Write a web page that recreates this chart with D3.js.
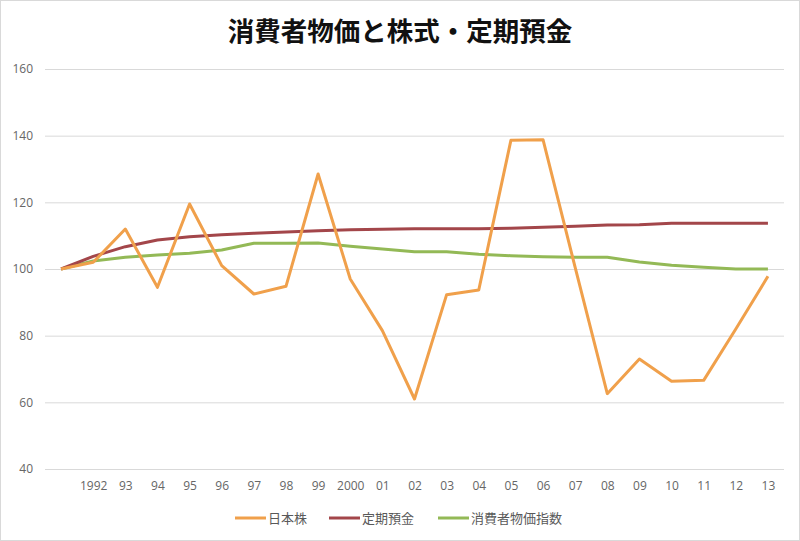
<!DOCTYPE html>
<html>
<head>
<meta charset="utf-8">
<script src="https://cdn.jsdelivr.net/npm/d3@7"></script>
<style>
  body { margin: 0; background: #fff; }
  svg { display: block; font-family: "Noto Sans CJK JP", "Noto Sans", sans-serif; }
</style>
</head>
<body>
<div id="chart"></div>
<script>
// categories (first point is the 1991 base year, left unlabeled)
var years = ["", "1992", "93", "94", "95", "96", "97", "98", "99", "2000", "01", "02",
	"03", "04", "05", "06", "07", "08", "09", "10", "11", "12", "13"];

var stocks = [100, 102, 112, 94.5, 119.5, 101, 92.5, 94.8, 128.5, 97, 81.5, 61,
	92.3, 93.7, 138.6, 138.8, 100.5, 62.6, 73, 66.3, 66.6, 82, 97.8];

var deposits = [100, 103.8, 106.7, 108.7, 109.7, 110.3, 110.7, 111.1, 111.5, 111.8, 111.9, 112.1,
	112.1, 112.1, 112.2, 112.5, 112.8, 113.2, 113.3, 113.7, 113.7, 113.7, 113.7];

var cpi = [100, 102.4, 103.5, 104.2, 104.7, 105.7, 107.7, 107.7, 107.8, 106.8, 106, 105.2,
	105.2, 104.4, 104, 103.7, 103.5, 103.5, 102.1, 101.1, 100.5, 100, 100];

var yTicks = [40, 60, 80, 100, 120, 140, 160];

var seriesNames = ["日本株", "定期預金", "消費者物価指数"];
var seriesColors = ["#F0A04B", "#A3464A", "#93B956"];
var seriesValues = [stocks, deposits, cpi];

function drawChart() {
	var W = 800, H = 541;
	var plotLeft = 45, plotRight = 784, plotTop = 69, plotBottom = 469;

	var svg = d3.select('#chart').append('svg')
		.attr('width', W).attr('height', H);

	// outer frame
	svg.append('rect')
		.attr('x', 0.5).attr('y', 0.5)
		.attr('width', W - 1).attr('height', H - 1)
		.attr('fill', '#fff').attr('stroke', '#d9d9d9');

	svg.append('text')
		.attr('x', 400).attr('y', 41)
		.attr('text-anchor', 'middle')
		.attr('font-size', 26.5).attr('font-weight', 'bold')
		.attr('fill', '#111')
		.text('消費者物価と株式・定期預金');

	var x = d3.scalePoint().domain(d3.range(years.length)).range([plotLeft, plotRight]).padding(0.5);
	var y = d3.scaleLinear().domain([40, 160]).range([plotBottom, plotTop]);

	// gridlines + y labels
	var yAxis = d3.axisLeft(y).tickValues(yTicks).tickSize(-(plotRight - plotLeft)).tickPadding(12);
	var gy = svg.append('g').attr('transform', 'translate(' + plotLeft + ',0)').call(yAxis);
	gy.select('.domain').remove();
	gy.selectAll('line').attr('stroke', '#d9d9d9');
	gy.selectAll('text')
		.attr('font-family', '"Open Sans", "Noto Sans", sans-serif')
		.attr('font-size', 12).attr('fill', '#666');

	// x labels
	var xAxis = d3.axisBottom(x).tickSize(0).tickPadding(12).tickFormat(function (i) { return years[i]; });
	var gx = svg.append('g').attr('transform', 'translate(0,' + plotBottom + ')').call(xAxis);
	gx.select('.domain').remove();
	gx.selectAll('text')
		.attr('font-family', '"Open Sans", "Noto Sans", sans-serif')
		.attr('font-size', 12).attr('fill', '#666');

	var line = d3.line()
		.x(function (d, i) { return x(i); })
		.y(function (d) { return y(d); });

	// draw in reverse so stocks line sits on top
	[2, 1, 0].forEach(function (k) {
		svg.append('path')
			.datum(seriesValues[k])
			.attr('d', line)
			.attr('fill', 'none')
			.attr('stroke', seriesColors[k])
			.attr('stroke-width', 3)
			.attr('stroke-linejoin', 'round');
	});

	// legend
	var legendX = [235, 329, 438];
	var legend = svg.append('g').selectAll('g')
		.data(seriesNames)
		.enter().append('g')
		.attr('transform', function (d, i) { return 'translate(' + legendX[i] + ',518)'; });

	legend.append('line')
		.attr('x1', 0).attr('x2', 31)
		.attr('stroke', function (d, i) { return seriesColors[i]; })
		.attr('stroke-width', 3);

	legend.append('text')
		.attr('x', 33).attr('dy', '0.35em')
		.attr('font-size', 13).attr('fill', '#595959')
		.text(function (d) { return d; });
}

drawChart();
</script>
</body>
</html>
